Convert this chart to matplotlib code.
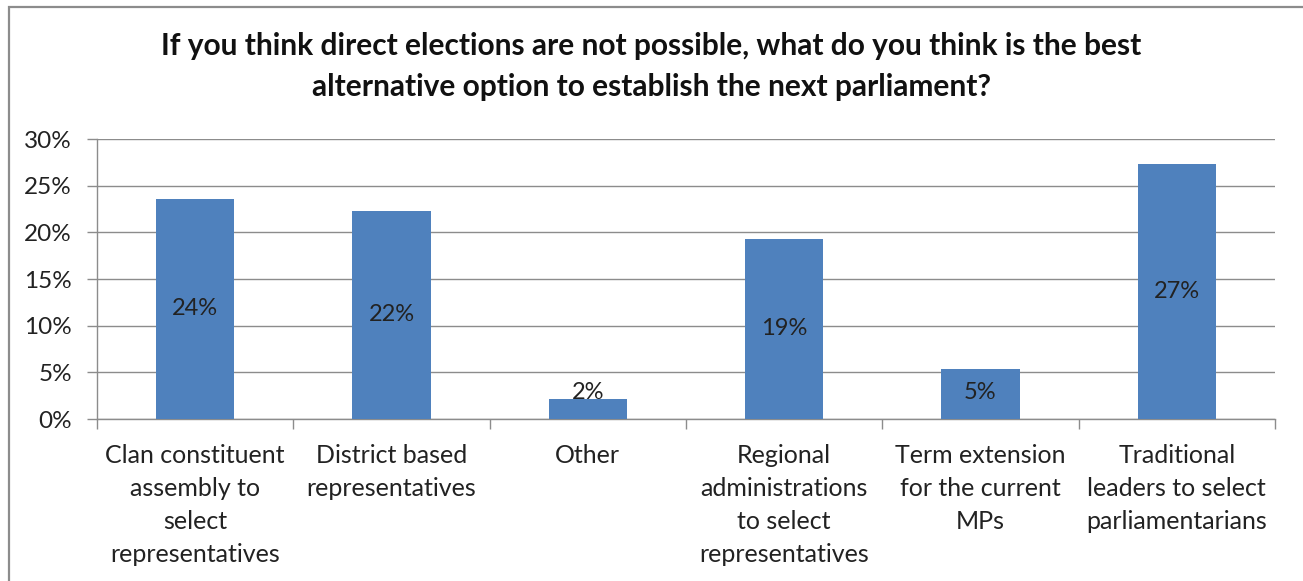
import matplotlib
matplotlib.use("Agg")
import matplotlib.pyplot as plt
from matplotlib.patches import Rectangle
import numpy as np

categories = [
    "Clan constituent\nassembly to\nselect\nrepresentatives",
    "District based\nrepresentatives",
    "Other",
    "Regional\nadministrations\nto select\nrepresentatives",
    "Term extension\nfor the current\nMPs",
    "Traditional\nleaders to select\nparliamentarians",
]
values = [23.6, 22.3, 2.1, 19.3, 5.4, 27.3]
y_ticks = [0, 5, 10, 15, 20, 25, 30]
title = ("If you think direct elections are not possible, what do you think is the best\n"
         "alternative option to establish the next parliament?")

plt.rcParams["font.family"] = ["Lato", "DejaVu Sans"]

W, H = 1303, 581
fig = plt.figure(figsize=(W / 100, H / 100), dpi=100)
fig.patch.set_facecolor("white")

# outer chart frame (left and top edges visible)
fig.add_artist(Rectangle((8.5 / W, -0.1), 1.2, 1.1 - 6.5 / H,
                         transform=fig.transFigure, fill=False,
                         edgecolor="#8c8c8c", linewidth=1.6))

left, right = 97 / W, 1275 / W
bottom, top = 1 - 419 / H, 1 - 139 / H
ax = fig.add_axes([left, bottom, right - left, top - bottom])

x = np.arange(len(categories))
bar_color = "#4F81BD"
ax.bar(x, values, width=0.4, color=bar_color, zorder=3)

ax.set_xlim(-0.5, len(categories) - 0.5)
ax.set_ylim(0, 30)
ax.set_yticks(y_ticks)
ax.set_yticklabels([f"{t}%" for t in y_ticks], fontsize=17.5, color="#222222")
ax.yaxis.grid(True, color="#8c8c8c", linewidth=1.0, zorder=0)
ax.set_axisbelow(True)

for s in ["top", "right"]:
    ax.spines[s].set_visible(False)
for s in ["left", "bottom"]:
    ax.spines[s].set_color("#8c8c8c")
    ax.spines[s].set_linewidth(1.0)

ax.tick_params(axis="y", length=7, width=1.0, color="#8c8c8c", pad=11)

# category boundary ticks below the axis
ax.set_xticks(np.arange(len(categories) + 1) - 0.5)
ax.set_xticklabels([])
ax.tick_params(axis="x", length=7, width=1.0, color="#8c8c8c")
for i, lab in enumerate(categories):
    ax.text(i, -2.7, lab, ha="center", va="top", fontsize=18,
            color="#222222", linespacing=1.53)

# value labels centred in each bar
for i, v in enumerate(values):
    ax.text(i, max(v / 2, 2.85), f"{round(v):.0f}%", ha="center", va="center",
            fontsize=17, color="#222222", zorder=4)

fig.text(0.5, 1 - 66.5 / H, title, ha="center", va="center", fontsize=21.5,
         fontweight="bold", color="#111111", linespacing=1.53)

fig.savefig("out.png", dpi=100)
